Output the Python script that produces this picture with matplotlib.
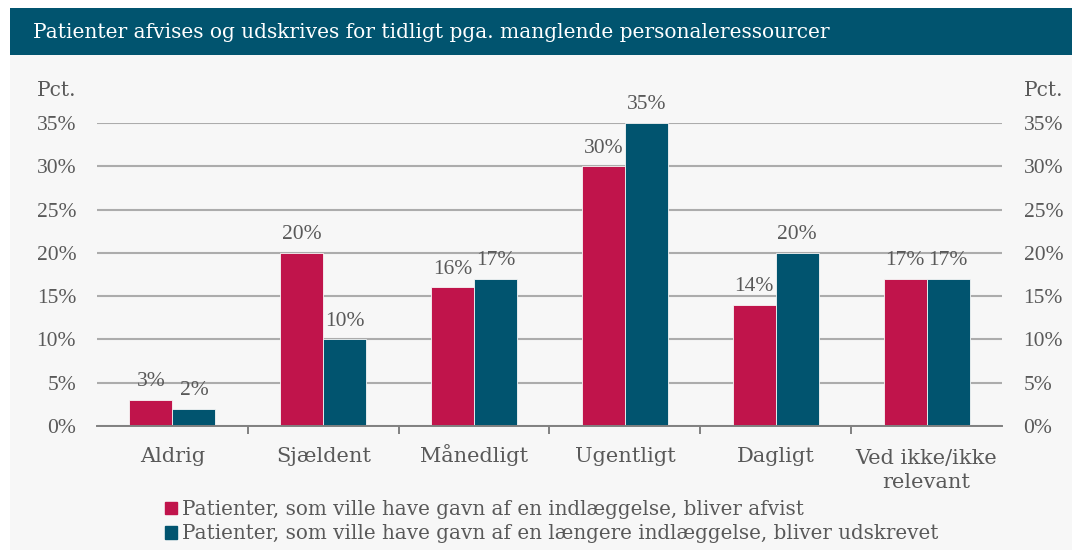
import numpy as np
import matplotlib.pyplot as plt
from matplotlib.patches import Rectangle

categories = ['Aldrig', 'Sjældent', 'Månedligt', 'Ugentligt', 'Dagligt', 'Ved ikke/ikke\nrelevant']
afvist = [3, 20, 16, 30, 14, 17]
udskrevet = [2, 10, 17, 35, 20, 17]
labels = ['Patienter, som ville have gavn af en indlæggelse, bliver afvist',
          'Patienter, som ville have gavn af en længere indlæggelse, bliver udskrevet']
title = 'Patienter afvises og udskrives for tidligt pga. manglende personaleressourcer'

RED = '#c0144b'
BLUE = '#01546f'
TXT = '#595959'
BG = '#f7f7f7'
NUM = ['Liberation Serif', 'DejaVu Serif']   # narrower digits for the percent labels

plt.rcParams['font.family'] = ['DejaVu Serif']

fig = plt.figure(figsize=(10.78, 5.5), dpi=100)
fig.patch.set_facecolor('white')
# panel background and title bar
fig.add_artist(Rectangle((10/1078, 0), 1062/1078, 1 - 55/550, transform=fig.transFigure,
                         facecolor=BG, edgecolor='none', zorder=0))
fig.add_artist(Rectangle((10/1078, 1 - 55/550), 1062/1078, 47/550, transform=fig.transFigure,
                         facecolor=BLUE, edgecolor='none', zorder=0))
fig.text(33/1078, 1 - 32/550, title, color='white', fontsize=14.5, va='center', ha='left')

ax = fig.add_axes([97/1078, 1 - 426/550, 905/1078, 303/550])
ax.set_facecolor(BG)
x = np.arange(len(categories))
w = 0.285
ax.bar(x - w/2, afvist, w, color=RED, edgecolor=BG, linewidth=0.6, zorder=3)
ax.bar(x + w/2, udskrevet, w, color=BLUE, edgecolor=BG, linewidth=0.6, zorder=3)
for xi, v in zip(x - w/2, afvist):
    ax.text(xi, v + 1.0, f'{v}%', ha='center', va='bottom', color=TXT, fontsize=15.5, family=NUM)
for xi, v in zip(x + w/2, udskrevet):
    ax.text(xi, v + 1.0, f'{v}%', ha='center', va='bottom', color=TXT, fontsize=15.5, family=NUM)

ax.set_xlim(-0.5, len(categories) - 0.5)
ax.set_ylim(0, 35)
yt = np.arange(0, 36, 5)
ax.set_yticks(yt)
ax.set_yticklabels([f'{t}%' for t in yt], family=NUM)
ax.grid(axis='y', color='#acacac', linewidth=1.5, zorder=0)
ax.set_axisbelow(True)
for s in ['top', 'right', 'left']:
    ax.spines[s].set_visible(False)
ax.spines['bottom'].set_color('#808080')
ax.spines['bottom'].set_linewidth(1.4)
ax.spines['bottom'].set_zorder(4)
ax.tick_params(axis='y', length=0, pad=15, labelsize=15.5, labelcolor=TXT)
ax.set_xticks(x)
ax.set_xticklabels([''] * len(categories))
ax.tick_params(axis='x', length=0)
ax.set_xticks(np.arange(0.5, len(categories) - 1, 1), minor=True)
ax.tick_params(axis='x', which='minor', length=6, width=1.4, color='#808080')

# category labels on a common baseline (Å would push a top-aligned label down)
LINE_GAP = 18.7
for xi, cat in zip(x, categories):
    extra = cat.count('\n') * LINE_GAP
    ax.annotate(cat, xy=(xi, 0), xycoords=('data', 'axes fraction'),
                xytext=(0, -26 - extra), textcoords='offset points',
                ha='center', va='baseline', ma='center', linespacing=1.36,
                color=TXT, fontsize=15, annotation_clip=False)

# right-hand percent scale
ax2 = ax.twinx()
ax2.set_ylim(ax.get_ylim())
ax2.set_yticks(yt)
ax2.set_yticklabels([f'{t}%' for t in yt], family=NUM)
ax2.tick_params(axis='y', length=0, pad=15.5, labelsize=15.5, labelcolor=TXT)
for s in ax2.spines.values():
    s.set_visible(False)

ax.text(-0.023, 1.075, 'Pct.', transform=ax.transAxes, ha='right', va='bottom', color=TXT, fontsize=14.5)
ax.text(1.024, 1.075, 'Pct.', transform=ax.transAxes, ha='left', va='bottom', color=TXT, fontsize=14.5)

handles = [Rectangle((0, 0), 1, 1, color=RED), Rectangle((0, 0), 1, 1, color=BLUE)]
fig.legend(handles, labels, loc='upper left', bbox_to_anchor=(165/1078, 1 - 500/550),
           frameon=False, fontsize=14.35, labelcolor=TXT, handlelength=0.6, handleheight=0.62,
           handletextpad=0.25, labelspacing=0.26, borderpad=0, borderaxespad=0)

fig.savefig('out.png', dpi=100, facecolor='white')
